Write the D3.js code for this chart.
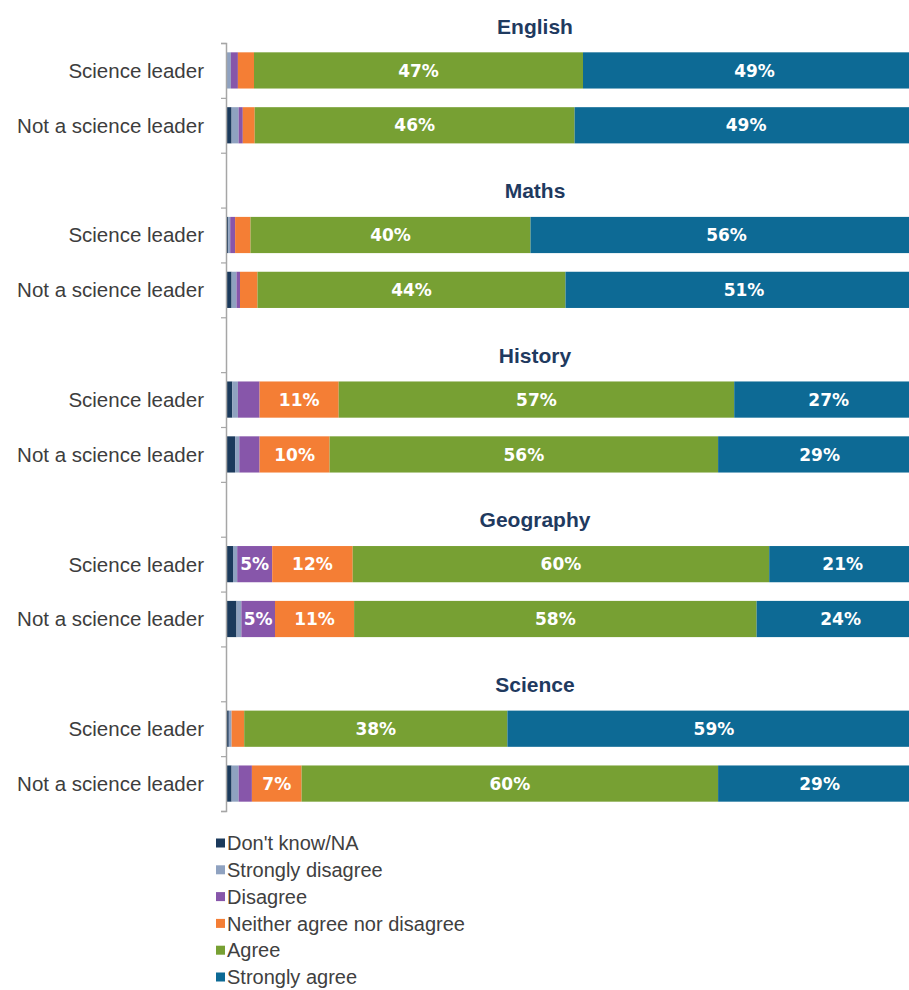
<!DOCTYPE html>
<html>
<head>
<meta charset="utf-8">
<script src="https://cdn.jsdelivr.net/npm/d3@7"></script>
<style>
  html, body { margin: 0; padding: 0; background: #fff; }
  svg { display: block; }
</style>
</head>
<body>
<svg id="chart" width="909" height="990"></svg>
<script>
// ---- data ----
const subjects = ["English", "Maths", "History", "Geography", "Science"];
const groups = ["Science leader", "Not a science leader"];
const seriesNames = ["Don't know/NA", "Strongly disagree", "Disagree", "Neither agree nor disagree", "Agree", "Strongly agree"];
const seriesColors = ["#1b3a5c", "#8fa2c0", "#8756aa", "#f47e35", "#77a033", "#0d6a95"];
// order per series: Eng SL, Eng NSL, Maths SL, Maths NSL, Hist SL, Hist NSL, Geo SL, Geo NSL, Sci SL, Sci NSL
const dontKnow        = [0.0, 0.8, 0.3, 0.8, 0.9, 1.3, 1.0, 1.5, 0.4, 0.8];
const stronglyDisagree= [0.7, 1.0, 0.3, 0.7, 0.8, 0.6, 0.6, 0.7, 0.4, 1.0];
const disagree        = [1.0, 0.6, 0.7, 0.5, 3.1, 2.9, 5.0, 4.8, 0.0, 1.9];
const neither         = [2.3, 1.7, 2.2, 2.5, 11.3, 10.0, 11.5, 11.3, 1.8, 7.1];
const agree           = [47.0, 45.7, 40.0, 44.0, 56.5, 55.5, 59.5, 57.5, 37.6, 59.5];
const stronglyAgree   = [49, 49, 56, 51, 27, 29, 21, 24, 59, 29];
const seriesValues = [dontKnow, stronglyDisagree, disagree, neither, agree, stronglyAgree];

// ---- layout ----
const svg = d3.select("#chart");
const x = d3.scaleLinear().domain([0, 100]).range([226, 926]);
const nRows = subjects.length * 3 - 1;
const rowIdx = d3.scaleLinear().domain([0, nRows]).range([43, 811]);
const rowIds = d3.range(nRows);
const y = d3.scaleBand().domain(rowIds).range([43, 811]).paddingInner(0.34).paddingOuter(0.17);

// build rows
const rows = [];
subjects.forEach((s, si) => {
  groups.forEach((g, gi) => {
    const k = si * 2 + gi;
    let cum = 0;
    const segs = seriesValues.map((arr, j) => {
      const v = arr[k];
      const seg = { series: j, v: v, x0: cum, x1: cum + v };
      cum += v;
      return seg;
    });
    rows.push({ subject: s, group: g, row: si * 3 + gi, segs: segs });
  });
});

// bars
const rowG = svg.selectAll("g.row").data(rows).join("g").attr("class", "row")
  .attr("transform", d => `translate(0,${y(d.row)})`);
rowG.selectAll("rect").data(d => d.segs).join("rect")
  .attr("x", d => x(d.x0))
  .attr("width", d => Math.max(0, x(d.x1) - x(d.x0)))
  .attr("y", 0)
  .attr("height", y.bandwidth())
  .attr("fill", d => seriesColors[d.series]);
rowG.selectAll("text").data(d => d.segs.filter(s => Math.round(s.v) >= 5)).join("text")
  .attr("x", d => (x(d.x0) + Math.min(x(d.x1), 926)) / 2)
  .attr("y", y.bandwidth() / 2)
  .attr("dy", "0.36em")
  .attr("text-anchor", "middle")
  .attr("fill", "#ffffff")
  .attr("font-family", "DejaVu Sans, sans-serif")
  .attr("font-weight", "bold")
  .attr("font-size", 17)
  .text(d => Math.round(d.v) + "%");

// category labels
svg.selectAll("text.cat").data(rows).join("text").attr("class", "cat")
  .attr("x", 204)
  .attr("y", d => y(d.row) + y.bandwidth() / 2)
  .attr("dy", "0.36em")
  .attr("text-anchor", "end")
  .attr("fill", "#3d3d3d")
  .attr("font-family", "Liberation Sans, Arial, sans-serif")
  .attr("font-size", 20.5)
  .text(d => d.group);

// subject titles
svg.selectAll("text.title").data(subjects).join("text").attr("class", "title")
  .attr("x", 535)
  .attr("y", (d, i) => rowIdx(i * 3 - 1) + 38)
  .attr("dy", "0.36em")
  .attr("text-anchor", "middle")
  .attr("fill", "#1f3a5f")
  .attr("font-family", "Liberation Sans, Arial, sans-serif")
  .attr("font-weight", "bold")
  .attr("font-size", 21)
  .text(d => d);

// axis with ticks at row boundaries
const axis = d3.axisLeft(rowIdx).tickValues(d3.range(nRows + 1)).tickSize(5).tickFormat("");
const ag = svg.append("g").attr("transform", "translate(226,0)").call(axis);
ag.select(".domain").attr("stroke", "#a6a6a6").attr("stroke-width", 1.5);
ag.selectAll(".tick line").attr("stroke", "#a6a6a6").attr("stroke-width", 1.2);

// legend
const lg = svg.append("g");
const leg = lg.selectAll("g").data(seriesNames).join("g")
  .attr("transform", (d, i) => `translate(216,${843 + i * 26.8})`);
leg.append("rect").attr("x", 0).attr("y", -4.5).attr("width", 9).attr("height", 9)
  .attr("fill", (d, i) => seriesColors[i]);
leg.append("text").attr("x", 11).attr("y", 0).attr("dy", "0.36em")
  .attr("fill", "#404040")
  .attr("font-family", "Liberation Sans, Arial, sans-serif")
  .attr("font-size", 20)
  .text(d => d);
</script>
</body>
</html>
